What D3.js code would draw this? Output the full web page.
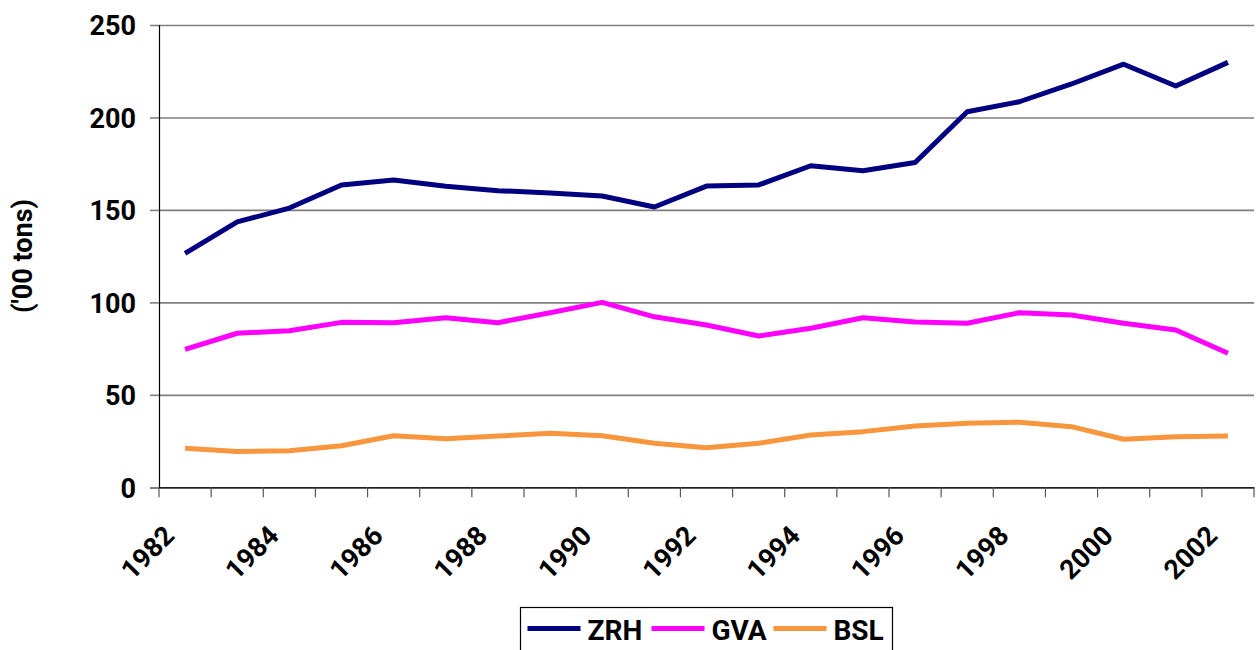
<!DOCTYPE html>
<html>
<head>
<meta charset="utf-8">
<script src="https://cdn.jsdelivr.net/npm/d3@7"></script>
<style>
  body { margin: 0; background: #fff; }
  text { font-family: Roboto, "DejaVu Sans Condensed", sans-serif; font-weight: 700; fill: #000; }
</style>
</head>
<body>
<div id="chart"></div>
<script>
// data ('00 tons)
var years = d3.range(1982, 2003);
var zrh = [126.5, 143.5, 151, 163.5, 166.2, 162.8, 160.4, 159.2, 157.5, 151.6, 162.9, 163.5, 173.9, 171.2, 175.6, 203.1, 208.5, 218.1, 228.8, 217, 229.8];
var gva = [74.6, 83.3, 84.7, 89.2, 89, 91.7, 89, 94.4, 100, 92.2, 87.8, 81.8, 86, 91.7, 89.4, 88.7, 94.4, 93.2, 88.7, 85.1, 72.5];
var bsl = [21.1, 19.3, 19.8, 22.5, 27.9, 26.3, 27.7, 29.2, 27.9, 23.8, 21.4, 23.8, 28.3, 30.1, 33.2, 34.6, 35.2, 32.8, 26, 27.4, 27.7];
var yTicks = [0, 50, 100, 150, 200, 250];
var xLabels = years.filter(function(y) { return y % 2 == 0; });

var series = [
  { name: "ZRH", values: zrh, color: "#000080" },
  { name: "GVA", values: gva, color: "#ff00ff" },
  { name: "BSL", values: bsl, color: "#f7963c" }
];

var width = 1257, height = 650;
var plotLeft = 159, plotRight = 1254, plotTop = 25, plotBottom = 487.3;

var svg = d3.select("#chart").append("svg")
  .attr("width", width)
  .attr("height", height);

var x = d3.scaleBand().domain(years).range([plotLeft, plotRight]);
var y = d3.scaleLinear().domain([0, 250]).range([plotBottom, plotTop]);

// gridlines
svg.append("g")
  .attr("transform", "translate(" + plotLeft + ",0)")
  .call(d3.axisLeft(y).tickValues(yTicks).tickSize(-(plotRight - plotLeft)).tickFormat(""))
  .call(function(g) {
    g.select(".domain").remove();
    g.selectAll(".tick line").attr("stroke", "#7f7f7f").attr("stroke-width", 1.6);
  });

// y axis
svg.append("g")
  .attr("transform", "translate(" + plotLeft + ",0)")
  .call(d3.axisLeft(y).tickValues(yTicks).tickSize(9).tickPadding(14))
  .call(function(g) {
    g.select(".domain").attr("stroke", "#000").attr("stroke-width", 1.2);
    g.selectAll(".tick line").attr("stroke", "#7f7f7f").attr("stroke-width", 1.6);
    g.selectAll(".tick text").attr("font-size", 27).attr("dy", "0.36em")
      .attr("font-family", "Roboto, sans-serif");
  });

// x axis
var xg = svg.append("g")
  .attr("transform", "translate(0," + plotBottom + ")")
  .call(d3.axisBottom(x).tickValues([]).tickSizeOuter(0))
  .call(function(g) { g.select(".domain").attr("stroke", "#000").attr("stroke-width", 1.2); });

xg.selectAll("line.sep")
  .data(years.concat([2003]))
  .enter().append("line")
  .attr("class", "sep")
  .attr("x1", function(d, i) { return plotLeft + i * x.step(); })
  .attr("x2", function(d, i) { return plotLeft + i * x.step(); })
  .attr("y1", 0)
  .attr("y2", 10)
  .attr("stroke", "#555")
  .attr("stroke-width", 1.2);

xg.selectAll("text.lbl")
  .data(xLabels)
  .enter().append("text")
  .attr("class", "lbl")
  .attr("font-size", 27)
  .attr("text-anchor", "end")
  .attr("transform", function(d) {
    return "translate(" + (x(d) + x.bandwidth() / 2 - 9) + ",50) rotate(-45)";
  })
  .text(function(d) { return d; });

// y label
svg.append("text")
  .attr("transform", "translate(32,256) rotate(-90)")
  .attr("text-anchor", "middle")
  .attr("font-size", 27)
  .text("('00 tons)");

// lines
var line = d3.line()
  .x(function(d, i) { return x(years[i]) + x.bandwidth() / 2; })
  .y(function(d) { return y(d); });

svg.selectAll("path.series")
  .data(series)
  .enter().append("path")
  .attr("class", "series")
  .attr("fill", "none")
  .attr("stroke", function(d) { return d.color; })
  .attr("stroke-width", 5)
  .attr("stroke-linejoin", "round")
  .attr("d", function(d) { return line(d.values); });

// legend
var lg = svg.append("g").attr("transform", "translate(520.5,607.5)");
lg.append("rect")
  .attr("width", 372)
  .attr("height", 60)
  .attr("fill", "#fff")
  .attr("stroke", "#000")
  .attr("stroke-width", 1.2);

var offsets = [7, 131, 253];
var item = lg.selectAll("g.item")
  .data(series)
  .enter().append("g")
  .attr("class", "item")
  .attr("transform", function(d, i) { return "translate(" + offsets[i] + ",21)"; });

item.append("line")
  .attr("x1", 0).attr("x2", 53)
  .attr("stroke", function(d) { return d.color; })
  .attr("stroke-width", 5);

item.append("text")
  .attr("x", 60)
  .attr("y", 11)
  .attr("font-size", 28)
  .text(function(d) { return d.name; });
</script>
</body>
</html>
